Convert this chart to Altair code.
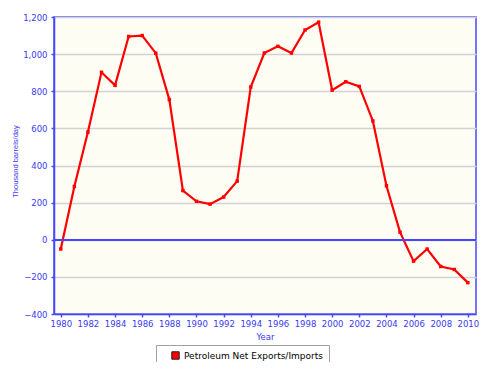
import altair as alt
import pandas as pd

years = list(range(1980, 2011))
values = [-50, 287, 580, 902, 832, 1095, 1100, 1005, 755, 265,
          207, 192, 230, 316, 823, 1006, 1042, 1006, 1130, 1172,
          806, 851, 826, 640, 291, 41, -115, -50, -144, -160, -231]
series_name = "Petroleum Net Exports/Imports"
x_ticks = list(range(1980, 2011, 2))
y_ticks = list(range(-400, 1201, 200))

df = pd.DataFrame({"Year": years, "Value": values, "Series": [series_name] * len(years)})

BLUE = "#4646FF"
LBLUE = "#3A3AF0"
FONT = "DejaVu Sans"

x_enc = alt.X("Year:Q",
              scale=alt.Scale(domain=[1979.5, 2010.6], nice=False, zero=False),
              axis=alt.Axis(values=x_ticks, format="d", title="Year", grid=False,
                            labelOverlap=False, labelBound=False, tickCount=16,
                            domainColor=BLUE, domainWidth=1.5, tickColor=BLUE,
                            tickSize=3, tickWidth=1.5, labelColor=LBLUE,
                            labelFont=FONT, labelFontSize=8.5, labelPadding=2,
                            titleColor=LBLUE, titleFont=FONT, titleFontSize=8.5,
                            titleFontWeight="normal", titleY=22, titleBaseline="middle"))
y_enc = alt.Y("Value:Q",
              scale=alt.Scale(domain=[-400, 1200], nice=False),
              axis=alt.Axis(values=y_ticks, format=",d", title="Thousand barrels/day",
                            labelOverlap=False, labelBound=False, tickCount=9,
                            grid=True, gridColor="#D2D2D2", gridWidth=1.5,
                            domainColor=BLUE, domainWidth=1.5, tickColor=BLUE,
                            tickSize=3, tickWidth=1.5, labelColor=LBLUE,
                            labelFont=FONT, labelFontSize=8.5, labelPadding=4,
                            titleColor=LBLUE, titleFont="Liberation Sans",
                            titleFontSize=7.5, titleFontWeight="normal",
                            titleX=-39, titleY=144, titleAlign="center",
                            titleBaseline="middle"))

line = alt.Chart(df).mark_line(color="#FF0000", strokeWidth=2.2).encode(x=x_enc, y=y_enc)

zero = alt.Chart(df).mark_rule(color=BLUE, strokeWidth=1.5).encode(y=alt.datum(0))

points = alt.Chart(df).mark_point(filled=True, size=12, opacity=1, shape="square").encode(
    x=x_enc, y=y_enc,
    color=alt.Color("Series:N",
                    scale=alt.Scale(domain=[series_name], range=["#FF0000"]),
                    legend=alt.Legend(title=None, orient="none", legendX=102, legendY=328,
                                      symbolType="square", symbolSize=55,
                                      symbolFillColor="#FF0000", symbolStrokeColor="#222222",
                                      symbolStrokeWidth=1, symbolOffset=9,
                                      labelFont=FONT, labelFontSize=9, labelColor="#000000",
                                      padding=6, strokeColor="#A0A0A0", labelOffset=4)))

chart = alt.layer(line, zero, points).properties(
    width=422, height=297,
    background="white",
    autosize=alt.AutoSizeParams(type="none"),
    padding={"left": 46, "top": 9, "right": 3, "bottom": 48},
).configure_view(
    fill="#FDFDF4", stroke=BLUE, strokeWidth=1.5
)

chart.save("out.html", embed_options={"renderer": "svg", "actions": False})
